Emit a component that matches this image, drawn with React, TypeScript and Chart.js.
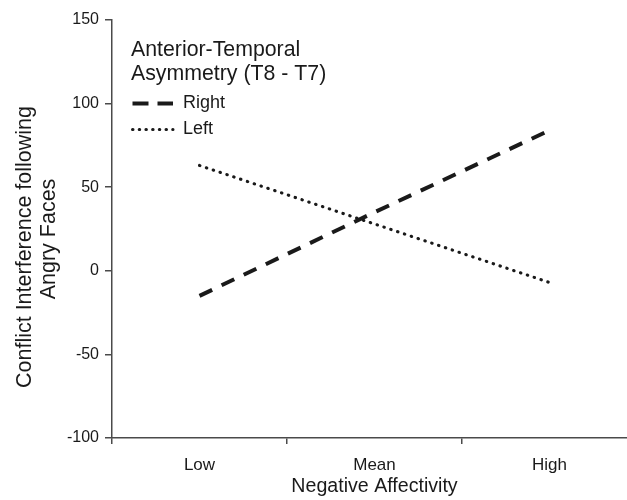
import React, { useEffect, useRef } from "react";
import { Chart, registerables } from "chart.js";

Chart.register(...registerables);

const categories = ["Low", "Mean", "High"];
const rightValues = [-15, 35, 84];
const leftValues = [63, 28, -7];
const seriesNames = ["Right", "Left"];
const legendTitle = ["Anterior-Temporal", "Asymmetry (T8 - T7)"];
const yTitle = ["Conflict Interference following", "Angry Faces"];
const xTitle = "Negative Affectivity";
const yMin = -100;
const yMax = 150;
const yStep = 50;

const FONT = "'Liberation Sans', Arial, sans-serif";
const INK = "#1a1a1a";
const AXIS = "#4a4a4a";

const annotationPlugin = {
  id: "insideLegendAndYTitle",
  afterDraw(chart: any) {
    const ctx = chart.ctx as CanvasRenderingContext2D;
    ctx.save();
    ctx.fillStyle = INK;
    ctx.textAlign = "left";
    ctx.textBaseline = "alphabetic";
    ctx.font = `21.3px ${FONT}`;
    ctx.fillText(legendTitle[0], 131, 56);
    ctx.fillText(legendTitle[1], 131, 80);

    const items = [
      { label: seriesNames[0], y: 103.5, dash: [16, 9], width: 4, cap: "butt" },
      { label: seriesNames[1], y: 129.5, dash: [0.5, 6.2], width: 3, cap: "round" },
    ];
    for (const it of items) {
      ctx.beginPath();
      ctx.setLineDash(it.dash);
      ctx.lineWidth = it.width;
      ctx.lineCap = it.cap as CanvasLineCap;
      ctx.strokeStyle = INK;
      ctx.moveTo(132.5, it.y);
      ctx.lineTo(173, it.y);
      ctx.stroke();
      ctx.setLineDash([]);
      ctx.font = `18px ${FONT}`;
      ctx.textBaseline = "middle";
      ctx.fillText(it.label, 183, it.y);
    }

    // rotated y-axis title (two lines)
    ctx.font = `21.5px ${FONT}`;
    ctx.textAlign = "center";
    ctx.textBaseline = "alphabetic";
    const lines = [
      { text: yTitle[0], x: 31, y: 247 },
      { text: yTitle[1], x: 55, y: 239 },
    ];
    for (const l of lines) {
      ctx.save();
      ctx.translate(l.x, l.y);
      ctx.rotate(-Math.PI / 2);
      ctx.fillText(l.text, 0, 0);
      ctx.restore();
    }
    ctx.restore();
  },
};

export default function App() {
  const ref = useRef<HTMLCanvasElement | null>(null);

  useEffect(() => {
    document.body.style.margin = "0";
    if (!ref.current) return;
    const chart = new Chart(ref.current, {
      type: "line",
      data: {
        labels: categories,
        datasets: [
          {
            label: seriesNames[0],
            data: rightValues,
            borderColor: INK,
            borderWidth: 4,
            borderDash: [14, 10.5],
            pointRadius: 0,
            fill: false,
            tension: 0,
          },
          {
            label: seriesNames[1],
            data: leftValues,
            borderColor: INK,
            borderWidth: 3.1,
            borderDash: [0.5, 6.7],
            borderCapStyle: "round",
            pointRadius: 0,
            fill: false,
            tension: 0,
          },
        ],
      },
      options: {
        responsive: false,
        animation: false,
        layout: { padding: { top: 20, right: 0, left: 0, bottom: 0 } },
        plugins: {
          legend: { display: false },
          tooltip: { enabled: false },
        },
        scales: {
          x: {
            type: "category",
            offset: true,
            grid: {
              offset: true,
              drawOnChartArea: false,
              drawTicks: true,
              tickLength: 6,
              color: AXIS,
              lineWidth: 1.5,
            },
            border: { display: true, color: AXIS, width: 1.5 },
            ticks: {
              color: INK,
              font: { family: FONT, size: 17 },
              padding: 11,
              maxRotation: 0,
            },
            title: {
              display: true,
              text: xTitle,
              color: INK,
              font: { family: FONT, size: 19.6 },
              padding: { top: 0, bottom: 2 },
            },
            afterFit(scale: any) {
              scale.height = 62;
            },
          },
          y: {
            min: yMin,
            max: yMax,
            ticks: {
              stepSize: yStep,
              color: INK,
              font: { family: FONT, size: 16 },
              padding: 6,
            },
            grid: {
              drawOnChartArea: false,
              drawTicks: true,
              tickLength: 7,
              color: AXIS,
              lineWidth: 1.5,
            },
            border: { display: true, color: AXIS, width: 1.5 },
            title: { display: false },
            afterFit(scale: any) {
              scale.width = 112;
            },
          },
        },
      },
      plugins: [annotationPlugin],
    });
    return () => chart.destroy();
  }, []);

  return (
    <div style={{ width: 627, height: 500, overflow: "hidden" }}>
      <canvas ref={ref} width={637} height={500} style={{ display: "block" }} />
    </div>
  );
}
